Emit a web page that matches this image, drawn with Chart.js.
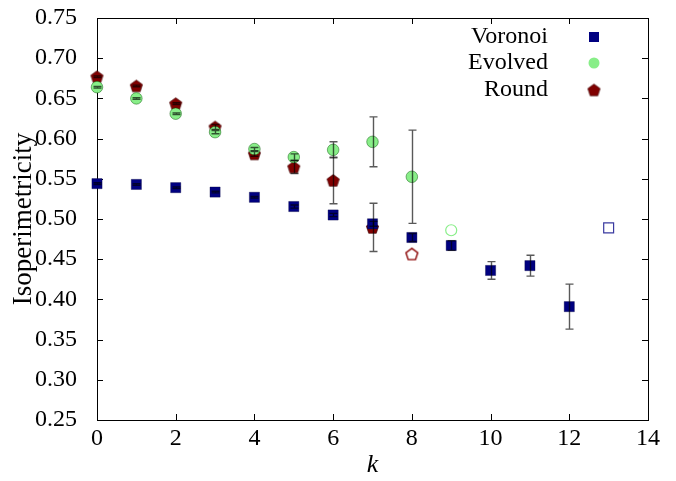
<!DOCTYPE html>
<html>
<head>
<meta charset="utf-8">
<script src="https://cdn.jsdelivr.net/npm/chart.js@4.4.1/dist/chart.umd.min.js"></script>
<style>
  body { margin: 0; background: #fff; }
  canvas { display: block; }
</style>
</head>
<body>
<canvas id="chart" width="676" height="481"></canvas>
<script>
// values
const kFilledVoronoi = [0, 1, 2, 3, 4, 5, 6, 7, 8, 9, 10, 11, 12];
const voronoi = [0.544, 0.543, 0.539, 0.5335, 0.527, 0.5155, 0.505, 0.494, 0.477, 0.467, 0.436, 0.442, 0.391];
const voronoiErr = [0.001, 0.001, 0.001, 0.001, 0.001, 0.002, 0.002, 0.003, 0.005, 0.006, 0.011, 0.013, 0.028];

const kFilledEvolved = [0, 1, 2, 3, 4, 5, 6, 7, 8];
const evolved = [0.664, 0.650, 0.631, 0.608, 0.587, 0.577, 0.586, 0.596, 0.5525];
const evolvedErr = [0.001, 0.001, 0.001, 0.002, 0.002, 0.004, 0.010, 0.031, 0.058];

const kFilledRound = [0, 1, 2, 3, 4, 5, 6, 7];
const round = [0.677, 0.6655, 0.6435, 0.6145, 0.581, 0.5645, 0.548, 0.4895];
const roundErr = [0.001, 0.001, 0.001, 0.003, 0.003, 0.008, 0.029, 0.030];

// single points drawn hollow (not in the legend)
const kHollowVoronoi = [13];
const hollowVoronoi = [0.489];
const kHollowEvolved = [9];
const hollowEvolved = [0.486];
const kHollowRound = [8];
const hollowRound = [0.4565];

const seriesNames = ["Voronoi", "Evolved", "Round"];
const xTicks = [0, 2, 4, 6, 8, 10, 12, 14];
const yTicks = [0.25, 0.30, 0.35, 0.40, 0.45, 0.50, 0.55, 0.60, 0.65, 0.70, 0.75];

const NAVY = "#000080";
const GREEN = "#88ee88";
const DARKRED = "#800000";
const SERIF = "'Liberation Serif', 'DejaVu Serif', serif";

function pts(xs, ys) {
  return xs.map((x, i) => ({ x: x, y: ys[i] }));
}

function pentagon(fill, stroke, r, lw) {
  let c = document.createElement("canvas");
  c.width = c.height = Math.ceil(r * 2 + 4);
  let g = c.getContext("2d");
  let cx = c.width / 2, cy = c.height / 2 + 0.6;
  g.beginPath();
  for (let i = 0; i < 5; i++) {
    let a = -Math.PI / 2 + i * 2 * Math.PI / 5;
    let px = cx + r * Math.cos(a), py = cy + r * Math.sin(a);
    i === 0 ? g.moveTo(px, py) : g.lineTo(px, py);
  }
  g.closePath();
  g.fillStyle = fill;
  g.fill();
  g.lineWidth = lw;
  g.strokeStyle = stroke;
  g.stroke();
  return c;
}

const pentFilled = pentagon(DARKRED, "rgba(60,0,0,0.6)", 6.5, 1);
const pentHollow = pentagon("#ffffff", "#8a0000", 6.2, 1.4);

// frame with inward ticks on all four sides
const framePlugin = {
  id: "frame",
  beforeDatasetsDraw(chart) {
    const { ctx, chartArea: a, scales } = chart;
    ctx.save();
    ctx.strokeStyle = "#000";
    ctx.lineWidth = 1;
    ctx.strokeRect(a.left + 0.5, a.top + 0.5, a.right - a.left, a.bottom - a.top);
    ctx.beginPath();
    xTicks.forEach((v) => {
      let x = Math.round(scales.x.getPixelForValue(v)) + 0.5;
      ctx.moveTo(x, a.bottom); ctx.lineTo(x, a.bottom - 6);
      ctx.moveTo(x, a.top); ctx.lineTo(x, a.top + 6);
    });
    yTicks.forEach((v) => {
      let y = Math.round(scales.y.getPixelForValue(v)) + 0.5;
      ctx.moveTo(a.left, y); ctx.lineTo(a.left + 6, y);
      ctx.moveTo(a.right, y); ctx.lineTo(a.right - 6, y);
    });
    ctx.stroke();
    ctx.restore();
  },
};

// error bars, drawn over the markers like matplotlib does
const errorPlugin = {
  id: "errorbars",
  afterDatasetsDraw(chart) {
    const { ctx, scales } = chart;
    ctx.save();
    ctx.strokeStyle = "rgba(0,0,0,0.65)";
    ctx.lineWidth = 1.4;
    chart.data.datasets.forEach((ds) => {
      if (!ds.errors) return;
      ds.data.forEach((p, i) => {
        let e = ds.errors[i];
        let x = Math.round(scales.x.getPixelForValue(p.x)) + 0.5;
        let y1 = scales.y.getPixelForValue(p.y - e);
        let y2 = scales.y.getPixelForValue(p.y + e);
        ctx.beginPath();
        ctx.moveTo(x, y1); ctx.lineTo(x, y2);
        ctx.moveTo(x - 4, y1); ctx.lineTo(x + 4, y1);
        ctx.moveTo(x - 4, y2); ctx.lineTo(x + 4, y2);
        ctx.stroke();
      });
    });
    ctx.restore();
  },
};

// legend: right aligned names, marker on the right
const legendPlugin = {
  id: "rightLegend",
  afterDraw(chart) {
    const { ctx, chartArea: a } = chart;
    let textRight = a.right - 100;
    let markX = a.right - 54;
    let rows = [a.top + 19, a.top + 45, a.top + 72];
    ctx.save();
    ctx.font = "24px " + SERIF;
    ctx.fillStyle = "#000";
    ctx.textAlign = "right";
    ctx.textBaseline = "middle";
    seriesNames.forEach((name, i) => {
      ctx.fillText(name, textRight, rows[i]);
    });
    ctx.fillStyle = NAVY;
    ctx.fillRect(markX - 5, rows[0] - 5, 10, 10);
    ctx.beginPath();
    ctx.arc(markX, rows[1], 5.5, 0, Math.PI * 2);
    ctx.fillStyle = GREEN;
    ctx.fill();
    ctx.drawImage(pentFilled, markX - pentFilled.width / 2, rows[2] - pentFilled.height / 2);
    ctx.restore();
  },
};

const tickFont = { family: SERIF, size: 24 };

new Chart(document.getElementById("chart"), {
  type: "scatter",
  data: {
    datasets: [
      {
        label: seriesNames[0],
        data: pts(kFilledVoronoi, voronoi),
        errors: voronoiErr,
        pointStyle: "rect",
        pointRadius: 7.2,
        backgroundColor: NAVY,
        borderColor: "rgba(0,0,60,0.35)",
        borderWidth: 1,
        clip: false,
      },
      {
        label: seriesNames[1],
        data: pts(kFilledEvolved, evolved),
        errors: evolvedErr,
        pointStyle: "circle",
        pointRadius: 5.8,
        backgroundColor: GREEN,
        borderColor: "rgba(0,80,0,0.45)",
        borderWidth: 1,
        clip: false,
      },
      {
        label: seriesNames[2],
        data: pts(kFilledRound, round),
        errors: roundErr,
        pointStyle: pentFilled,
        clip: false,
      },
      {
        label: "Voronoi single",
        data: pts(kHollowVoronoi, hollowVoronoi),
        pointStyle: "rect",
        pointRadius: 7,
        backgroundColor: "#ffffff",
        borderColor: "#3a3aa0",
        borderWidth: 1.2,
      },
      {
        label: "Evolved single",
        data: pts(kHollowEvolved, hollowEvolved),
        pointStyle: "circle",
        pointRadius: 5.5,
        backgroundColor: "#ffffff",
        borderColor: GREEN,
        borderWidth: 1.2,
      },
      {
        label: "Round single",
        data: pts(kHollowRound, hollowRound),
        pointStyle: pentHollow,
      },
    ],
  },
  options: {
    responsive: false,
    animation: false,
    layout: { padding: { top: 18, right: 28, left: 0, bottom: 0 } },
    plugins: {
      legend: { display: false },
      tooltip: { enabled: false },
    },
    scales: {
      x: {
        type: "linear",
        min: 0,
        max: 14,
        afterBuildTicks: (s) => { s.ticks = xTicks.map((v) => ({ value: v })); },
        afterFit: (s) => { s.height = 61; s.paddingLeft = 0; s.paddingRight = 0; },
        grid: { display: false },
        border: { display: false },
        ticks: { font: tickFont, color: "#000", padding: -4, maxRotation: 0 },
        title: {
          display: true,
          text: "k",
          color: "#000",
          font: { family: SERIF, size: 26, style: "italic" },
          padding: { top: 2, bottom: 0 },
        },
      },
      y: {
        min: 0.25,
        max: 0.75,
        afterBuildTicks: (s) => { s.ticks = yTicks.map((v) => ({ value: v })); },
        afterFit: (s) => { s.width = 97; s.paddingTop = 0; s.paddingBottom = 0; },
        grid: { display: false },
        border: { display: false },
        ticks: {
          font: tickFont,
          color: "#000",
          padding: 12,
          callback: (v) => v.toFixed(2),
        },
        title: {
          display: true,
          text: "Isoperimetricity",
          color: "#000",
          font: { family: SERIF, size: 27 },
          padding: { top: 8, bottom: 0 },
        },
      },
    },
  },
  plugins: [framePlugin, errorPlugin, legendPlugin],
});
</script>
</body>
</html>
